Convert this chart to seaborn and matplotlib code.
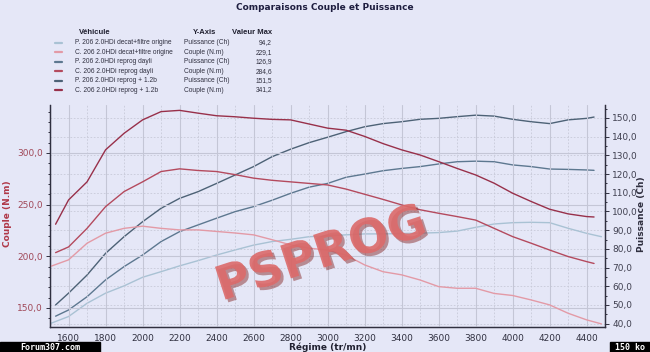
import numpy as np
import pandas as pd
import seaborn as sns
import matplotlib.pyplot as plt
import matplotlib.patheffects as pe
from matplotlib.lines import Line2D
from matplotlib.patches import Rectangle
from matplotlib.ticker import MultipleLocator, FuncFormatter

# rpm grids (reprog runs start/stop a bit inside the origine run)
rpm_mid = list(range(1600, 4401, 100))
rpm_reprog = [1530] + rpm_mid + [4440]
rpm_origine = [1500] + rpm_mid + [4480]

# torque (N.m)
couple_origine = [190, 196.5, 212.6, 222.3, 227, 229.1, 227, 225.5, 225.5, 224, 222.5,
                  220.7, 216, 211, 207.8, 206, 201, 191.6, 185, 182, 177, 170.6, 169,
                  169, 164, 162, 157.7, 152.9, 144.8, 138.4, 134.5]
couple_dayli = [203.5, 209, 227, 248, 262.6, 272, 282, 284.6, 283, 282, 279, 275.6,
                273.5, 272, 270.5, 269, 265, 260, 255, 249.7, 245, 241.6, 238.4, 235,
                227, 219, 212.6, 206, 199.7, 194.8, 193]
couple_12b = [231, 254.5, 272, 303, 319, 332, 340, 341.2, 338.5, 336, 335, 333.6,
              332.5, 332, 328, 324, 322, 316, 309, 303, 298, 291.6, 285, 278.7, 270.7,
              261, 253, 245.5, 241, 238.4, 238]

# power (Ch)
puiss_origine = [40, 43.8, 50.9, 56.3, 60.2, 64.8, 67.8, 70.9, 73.7, 76.7, 79.4, 82,
                 83.9, 85.1, 86.5, 87, 87.5, 88, 88, 88.2, 88.4, 88.7, 89.5, 91.5,
                 93.3, 94, 94.2, 94, 91, 88.3, 86.5]
puiss_dayli = [44, 47.3, 54.4, 63.4, 70.5, 76.7, 83.9, 89.2, 92.8, 96.4, 99.9, 102.6,
               106, 109.7, 113, 115, 118.3, 120, 121.8, 123, 124, 125.4, 126.6, 126.9,
               126.6, 124.9, 124, 122.7, 122.5, 122.2, 122]
puiss_12b = [50, 56.3, 66, 77.6, 86.5, 94.5, 101.7, 107, 110.6, 115, 119.5, 124,
             129.3, 133.3, 136.8, 139.7, 142.7, 145.3, 147, 148, 149.3, 149.8, 150.7,
             151.5, 151, 149.3, 148, 147, 149, 149.8, 150.5]

names = ["P. 206 2.0HDi decat+filtre origine", "C. 206 2.0HDi decat+filtre origine",
         "P. 206 2.0HDi reprog dayli", "C. 206 2.0HDi reprog dayli",
         "P. 206 2.0HDi reprog + 1.2b", "C. 206 2.0HDi reprog + 1.2b"]
y_axis = ["Puissance (Ch)", "Couple (N.m)"] * 3
colors = ["#a9c2d4", "#e39aa6", "#5d7890", "#b44a5e", "#4d6276", "#98304a"]

rpms = [rpm_origine, rpm_origine, rpm_reprog, rpm_reprog, rpm_reprog, rpm_reprog]
values = [puiss_origine, couple_origine, puiss_dayli, couple_dayli, puiss_12b, couple_12b]

df = pd.concat([pd.DataFrame({"rpm": r, "val": v, "serie": n, "axe": a})
                for r, v, n, a in zip(rpms, values, names, y_axis)])
palette = dict(zip(names, colors))

sns.set_style("white")
plt.rcParams['font.family'] = ['DejaVu Sans']

fig = plt.figure(figsize=(6.5, 3.52), dpi=100)
fig.patch.set_facecolor("#e5e7f7")
ax = fig.add_axes([0.077, 0.071, 0.854, 0.631])
ax2 = ax.twinx()

# power axis behind, torque axis on top
ax.set_zorder(ax2.get_zorder() + 1)
ax.patch.set_visible(False)
ax2.set_facecolor("#eff0fb")

sns.lineplot(data=df[df.axe == "Puissance (Ch)"], x="rpm", y="val", hue="serie",
             palette=palette, ax=ax2, legend=False, linewidth=1.0, sort=False)
sns.lineplot(data=df[df.axe == "Couple (N.m)"], x="rpm", y="val", hue="serie",
             palette=palette, ax=ax, legend=False, linewidth=1.0, sort=False)

ax.set_xlim(1500, 4500)
ax.set_ylim(131.5, 346.5)
ax2.set_ylim(38.2, 157)

comma = FuncFormatter(lambda v, p: f"{v:.1f}".replace(".", ","))
ax.xaxis.set_major_locator(MultipleLocator(200))
ax.xaxis.set_minor_locator(MultipleLocator(100))
ax.yaxis.set_major_locator(MultipleLocator(50))
ax.yaxis.set_minor_locator(MultipleLocator(10))
ax.yaxis.set_major_formatter(comma)
ax2.yaxis.set_major_locator(MultipleLocator(10))
ax2.yaxis.set_minor_locator(MultipleLocator(5))
ax2.yaxis.set_major_formatter(comma)

ax.grid(True, which="major", axis="x", color="#c4c6d6", linewidth=0.8)
ax.grid(True, which="minor", axis="x", color="#c8cad8", linewidth=0.6, linestyle=(0, (2, 2)))
ax.grid(True, which="major", axis="y", color="#c4c6d6", linewidth=0.8)
ax2.grid(True, which="major", axis="y", color="#c8cad8", linewidth=0.6, linestyle=(0, (2, 2)))
ax.set_axisbelow(True)

for a in (ax, ax2):
    a.spines["top"].set_visible(False)
    for s in ("left", "right", "bottom"):
        a.spines[s].set_color("#303040")
        a.spines[s].set_linewidth(0.9)
ax.tick_params(axis="x", which="both", direction="out", length=3, width=0.7,
               color="#303040", labelsize=6.5, labelcolor="#303040", pad=2)
ax.tick_params(axis="x", which="minor", length=2)
ax.tick_params(axis="y", which="both", direction="out", length=3, width=0.7,
               color="#303040", labelsize=6.5, labelcolor="#a04858", pad=2)
ax.tick_params(axis="y", which="minor", length=1.5)
ax2.tick_params(axis="y", which="both", direction="out", length=3, width=0.7,
                color="#303040", labelsize=6.5, labelcolor="#404050", pad=2)
ax2.tick_params(axis="y", which="minor", length=1.5)

ax.set_xlabel("Régime (tr/mn)", fontsize=6.5, fontweight="bold", color="#202030", labelpad=0)
ax.set_ylabel("Couple (N.m)", fontsize=6.5, fontweight="bold", color="#b03848")
ax2.set_ylabel("Puissance (Ch)", fontsize=6.5, fontweight="bold", color="#303040")
ax.yaxis.set_label_coords(-0.068, 0.51)
ax2.yaxis.set_label_coords(1.058, 0.51)

fig.text(0.5, 0.978, "Comparaisons Couple et Puissance", ha="center", va="center",
         fontsize=6.5, fontweight="bold", color="#1e1e40")

# legend table
leg_font = ['Liberation Sans', 'DejaVu Sans']
H = 352.0
fig.text(79 / 650, 1 - 33 / H, "Véhicule", fontsize=5.5, fontweight="bold",
         color="#202030", va="center", family=leg_font)
fig.text(193 / 650, 1 - 33 / H, "Y-Axis", fontsize=5.5, fontweight="bold",
         color="#202030", va="center", family=leg_font)
fig.text(272 / 650, 1 - 33 / H, "Valeur Max", fontsize=5.5, fontweight="bold",
         color="#202030", va="center", ha="right", family=leg_font)
for i, (n, a, v, c) in enumerate(zip(names, y_axis, values, colors)):
    yy = 1 - (43 + i * 9.4) / H
    fig.add_artist(Line2D([55 / 650, 62 / 650], [yy, yy], color=c, linewidth=1.6))
    fig.text(75 / 650, yy, n, fontsize=4.8, color="#303040", va="center", family=leg_font)
    fig.text(184 / 650, yy, a, fontsize=4.8, color="#303040", va="center", family=leg_font)
    fig.text(272 / 650, yy, f"{max(v):.1f}".replace(".", ","), fontsize=4.8,
             color="#303040", va="center", ha="right", family=leg_font)

# watermark
fig.text(0.495, 0.275, "PSPROG", ha="center", va="center", rotation=18,
         fontsize=34, fontweight="bold", color="#dc6a6a", alpha=0.9,
         path_effects=[pe.withSimplePatchShadow(offset=(2, -2), shadow_rgbFace="#8a3030", alpha=0.5)])

# host banners
fig.add_artist(Rectangle((0, 0), 100 / 650, 10 / H, transform=fig.transFigure,
                         color="black", zorder=10))
fig.text(50 / 650, 5 / H, "Forum307.com", ha="center", va="center", fontsize=6,
         color="white", family="DejaVu Sans Mono", fontweight="bold", zorder=11)
fig.add_artist(Rectangle((610 / 650, 0), 40 / 650, 10 / H, transform=fig.transFigure,
                         color="black", zorder=10))
fig.text(630 / 650, 5 / H, "150 ko", ha="center", va="center", fontsize=6,
         color="white", family="DejaVu Sans Mono", fontweight="bold", zorder=11)

fig.savefig("out.png", dpi=100, facecolor=fig.get_facecolor())
